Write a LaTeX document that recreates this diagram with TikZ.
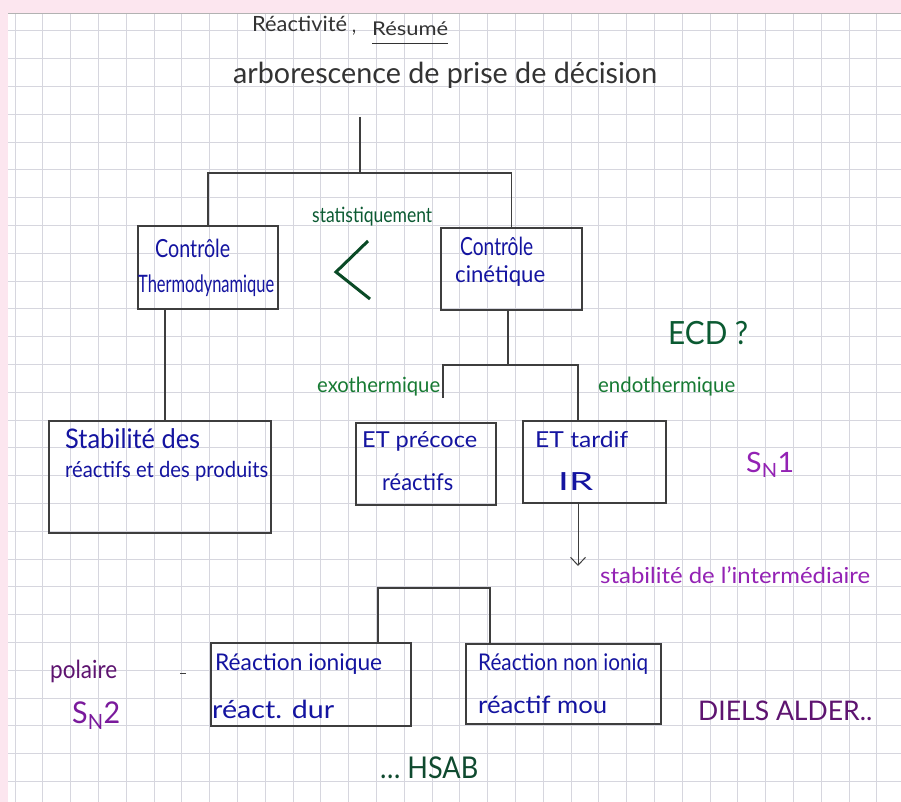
\documentclass[tikz,border=0pt]{standalone}
\usepackage{fontspec}
\setmainfont{Lato}
\usepackage{graphicx}
\usetikzlibrary{arrows.meta}
\definecolor{ink}{HTML}{3E3E3E}
\definecolor{titleink}{HTML}{333333}
\definecolor{bleu}{HTML}{1414A0}
\definecolor{vertf}{HTML}{0B5A32}
\definecolor{vertc}{HTML}{177A33}
\definecolor{vertchev}{HTML}{0A4A26}
\definecolor{violet}{HTML}{9322B4}
\definecolor{violetf}{HTML}{5E1470}
\definecolor{violetm}{HTML}{7A1A9C}
\definecolor{hsab}{HTML}{0F4A2F}
\definecolor{pinkbg}{HTML}{FCE6EF}
\definecolor{gridc}{HTML}{D6D6DE}
% width, font size, text
\newcommand{\hw}[3]{{\fontsize{#2}{#2}\selectfont\resizebox{#1pt}{\height}{#3}}}
\begin{document}
\begin{tikzpicture}[x=1pt,y=-1pt,
  box/.style={draw=ink, line width=1.7pt, inner sep=0pt, anchor=north west},
  conn/.style={draw=ink, line width=1.3pt},
  txt/.style={inner sep=0pt, anchor=base west},
  bt/.style={txt, text=bleu},
]
\useasboundingbox (0,0) rectangle (901,802);
\fill[white] (0,0) rectangle (901,802);
% grid paper
\foreach \i in {0,...,31} \draw[gridc, line width=0.8pt] ({15+27.8*\i},13) -- ({15+27.8*\i},802);
\foreach \j in {1,...,28} \draw[gridc, line width=0.8pt] (8,{3+27.8*\j}) -- (901,{3+27.8*\j});
\fill[pinkbg] (0,0) rectangle (901,13);
\fill[pinkbg] (0,0) rectangle (8,802);
\draw[gray!60, line width=0.8pt] (8,13) -- (901,13);

% header
\node[txt, text=titleink] (reac) at (252,32) {\hw{95}{21}{Réactivité}};
\node[txt, text=titleink] (comma) at (352,33) {\hw{4}{21}{,}};
\node[txt, text=titleink] (resume) at (372,36) {\hw{76}{19}{Résumé}};
\draw[titleink, line width=1pt] ([yshift=-8pt]resume.base west) -- ([yshift=-8pt]resume.base east);
\node[txt, text=titleink] (titre) at (233,84) {\hw{424}{29}{arborescence de prise de décision}};

% boxes
\node[box, minimum width=140pt, minimum height=83pt] (thermo) at (137,225) {};
\node[box, minimum width=141pt, minimum height=82pt] (cin) at (440,227) {};
\node[box, line width=2.2pt, minimum width=222pt, minimum height=112pt] (stab) at (48,420) {};
\node[box, line width=1.5pt, minimum width=140pt, minimum height=82pt] (ETp) at (355,422) {};
\node[box, minimum width=143pt, minimum height=82pt] (ETt) at (522,420) {};
\node[box, minimum width=200pt, minimum height=83pt] (RI) at (210,642) {};
\node[box, minimum width=195pt, minimum height=80pt] (RN) at (465,643) {};

% box texts
\node[bt] (thermoA) at (155,258) {\hw{75}{25}{Contrôle}};
\node[bt] (thermoB) at (138,292) {\hw{136}{24}{Thermodynamique}};
\node[bt] (cinA) at (460,255) {\hw{73}{25}{Contrôle}};
\node[bt] (cinB) at (455,282) {\hw{90}{23}{cinétique}};
\node[bt] (stabA) at (65,448) {\hw{135}{27}{Stabilité des}};
\node[bt] (stabB) at (65,477) {\hw{203}{22}{réactifs et des produits}};
\node[bt] (ETpA) at (362,447) {\hw{115}{22}{ET précoce}};
\node[bt] (ETpB) at (382,490) {\hw{71}{23}{réactifs}};
\node[bt] (ETtA) at (535,447) {\hw{93}{22}{ET tardif}};
\node[bt] (ETtB) at (558,490) {\hw{35}{25}{IR}};
\node[bt] (RIA) at (215,670) {\hw{167}{23}{Réaction ionique}};
\node[bt] (RIB) at (212,718) {\hw{122}{25}{réact. dur}};
\node[bt] (RNA) at (478,670) {\hw{170}{23}{Réaction non ioniq}};
\node[bt] (RNB) at (478,713) {\hw{129}{24}{réactif mou}};

% green annotations
\node[txt, text=vertf] (stat) at (312,223) {\hw{120}{21}{statistiquement}};
\coordinate (chevT) at (368,241);
\coordinate (chevM) at (336,272);
\coordinate (chevB) at (370,299);
\draw[vertchev, line width=3pt, line join=miter] (chevT) -- (chevM) -- (chevB);
\node[txt, text=vertf] (ecd) at (668,344) {\hw{80}{32}{ECD ?}};
\node[txt, text=vertc] (exo) at (317,392) {\hw{123}{21}{exothermique}};
\node[txt, text=vertc] (endo) at (598,392) {\hw{137}{21}{endothermique}};

% purple annotations
\node[txt, text=violet] (sn1) at (746,472) {\hw{48}{28}{S\textsubscript{N}1}};
\node[txt, text=violet] (interm) at (600,583) {\hw{270}{22}{stabilité de l'intermédiaire}};
\node[txt, text=violetf] (polaire) at (50,678) {\hw{67}{25}{polaire}};
\node[txt, text=violetm] (sn2) at (72,723) {\hw{48}{30}{S\textsubscript{N}2}};
\node[txt, text=violetf] (diels) at (698,720) {\hw{174}{27}{DIELS ALDER..}};
\node[txt, text=hsab] (hsab) at (380,778) {\hw{98}{30}{\dots\ HSAB}};

% stray dash
\coordinate (dashA) at (180,673);
\coordinate (dashB) at (186,673);
\draw[ink, line width=0.8pt] (dashA) -- (dashB);

% connectors: top tree
\coordinate (jtop) at (360,117);
\coordinate (jh) at (360,173);
\draw[conn] (jtop) -- (jh);
\draw[conn] (thermo.north) -- (thermo.north |- jh) -- (cin.north |- jh) -- (cin.north);
\draw[conn] ([xshift=5pt]stab.north |- thermo.south) -- ([xshift=5pt]stab.north);

% connectors: kinetic branch
\coordinate (jmid) at (508,365);
\coordinate (jl) at (443,365);
\coordinate (jr) at (578,365);
\coordinate (exoEnd) at (443,398);
\draw[conn] (jmid |- cin.south) -- (jmid);
\draw[conn] (exoEnd) -- (jl) -- (jr) -- (jr |- ETt.north);

% arrow to intermediate
\coordinate (arrEnd) at (578,566);
\draw[ink, line width=1pt, -{Straight Barb[length=8pt,width=15pt]}] (arrEnd |- ETt.south) -- (arrEnd);

% bottom tree
\coordinate (bl) at (378,588);
\coordinate (br) at (490,588);
\draw[conn] (bl |- RI.north) -- (bl) -- (br) -- (br |- RN.north);
\end{tikzpicture}
\end{document}
